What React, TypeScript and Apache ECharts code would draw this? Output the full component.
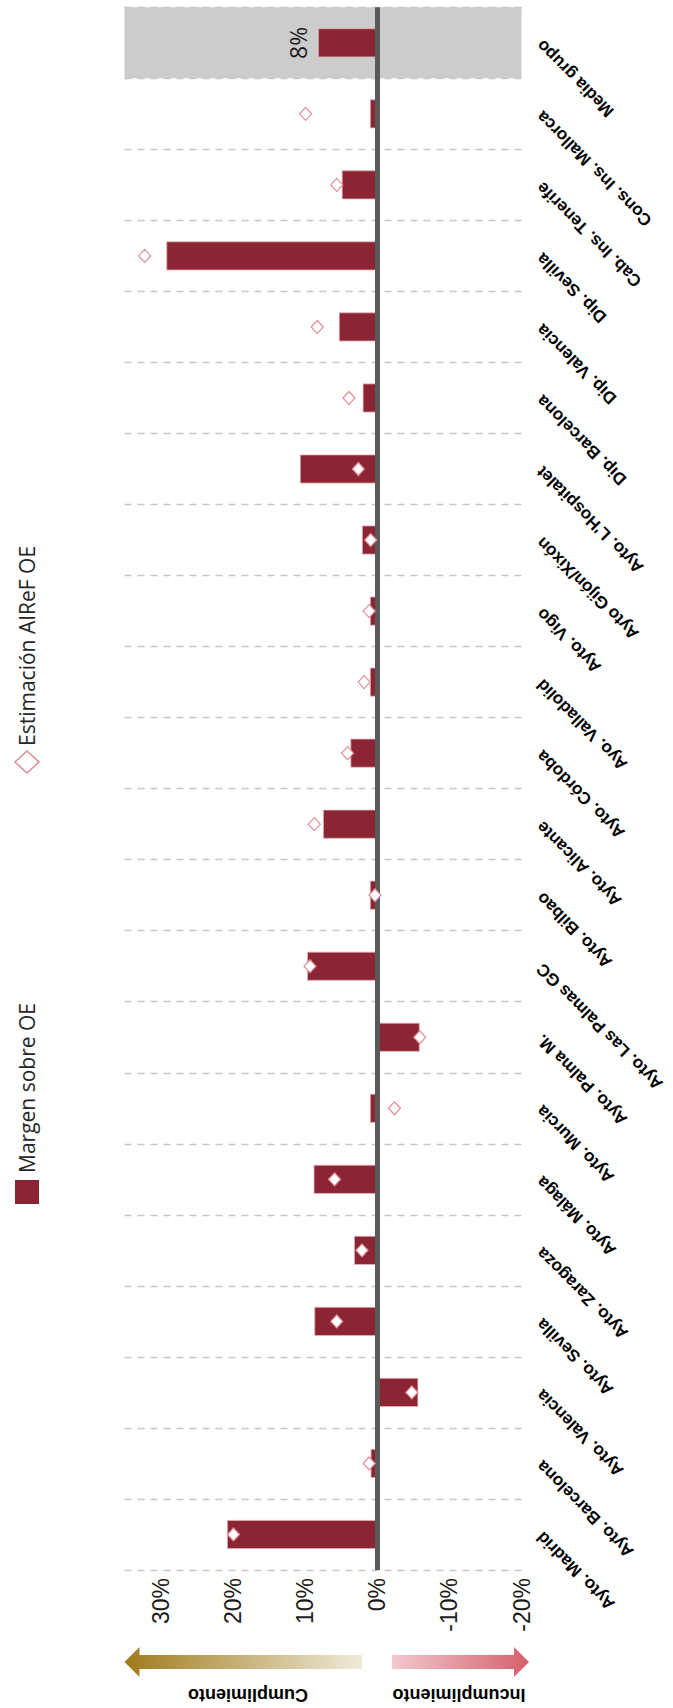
import React, { useEffect, useRef } from "react";
import * as echarts from "echarts";

const categories: string[] = [
  "Ayto. Madrid",
  "Ayto. Barcelona",
  "Ayto. Valencia",
  "Ayto. Sevilla",
  "Ayto. Zaragoza",
  "Ayto. Málaga",
  "Ayto. Murcia",
  "Ayto. Palma M.",
  "Ayto. Las Palmas GC",
  "Ayto. Bilbao",
  "Ayto. Alicante",
  "Ayto. Córdoba",
  "Ayo. Valladolid",
  "Ayto. Vigo",
  "Ayto Gijón/Xixón",
  "Ayto. L'Hospitalet",
  "Dip. Barcelona",
  "Dip. Valencia",
  "Dip. Sevilla",
  "Cab. Ins. Tenerife",
  "Cons. Ins. Mallorca",
  "Media grupo",
];

const margenSobreOE: number[] = [
  20.8, 0.9, -5.7, 8.7, 3.2, 8.8, 1.0, -5.9, 9.7, 1.0, 7.5, 3.7, 1.0, 1.0, 2.1,
  10.7, 2.0, 5.3, 29.2, 4.9, 1.0, 8.2,
];

const estimacionAIReF: (number | null)[] = [
  19.9, 1.1, -4.8, 5.6, 2.1, 5.9, -2.4, -5.9, 9.3, 0.3, 8.7, 4.1, 1.8, 1.1, 0.9,
  2.6, 3.9, 8.3, 32.2, 5.6, 9.9, null,
];

const highlightCategory = "Media grupo";

const valueTicks = { min: -20, max: 35, interval: 10 };

const legendNames = ["Margen sobre OE", "Estimación AIReF OE"];
const arrowNames = ["Cumplimiento", "Incumplimiento"];

const BAR = "#8B2533";
const DIAMOND = "#E28C97";

export default function App() {
  const ref = useRef<HTMLDivElement>(null);

  useEffect(() => {
    if (!ref.current) return;
    const chart = echarts.init(ref.current, null, { renderer: "svg" });

    const hlIndex = categories.indexOf(highlightCategory);

    const barData = margenSobreOE.map((v, i) =>
      i === hlIndex
        ? {
            value: v,
            label: {
              show: true,
              position: "left",
              rotate: 90,
              align: "center",
              verticalAlign: "bottom",
              distance: 8,
              fontSize: 23,
              fontFamily: "Open Sans",
              color: "#1a1a1a",
              formatter: (p: any) => Math.round(p.value) + "%",
            },
          }
        : v
    );

    const option: any = {
      animation: false,
      grid: { left: 124.5, right: 151.5, top: 7.3, bottom: 138, containLabel: false },
      xAxis: {
        type: "value",
        inverse: true,
        min: valueTicks.min,
        max: valueTicks.max,
        interval: valueTicks.interval,
        position: "bottom",
        axisLine: { show: false },
        axisTick: { show: false },
        splitLine: { show: false },
        axisLabel: {
          rotate: 90,
          margin: 8,
          fontSize: 23,
          fontFamily: "Liberation Sans, Arial",
          color: "#1a1a1a",
          formatter: (v: number) => (v > 30 ? "" : v + "%"),
        },
      },
      yAxis: {
        type: "category",
        data: categories,
        position: "right",
        axisLine: { show: false },
        axisTick: { show: false },
        splitLine: {
          show: true,
          lineStyle: { color: "#C6C6C6", width: 1.3, type: [7, 6] },
        },
        axisLabel: {
          interval: 0,
          rotate: 135,
          align: "right",
          verticalAlign: "middle",
          margin: 18,
          fontSize: 17,
          fontWeight: "bold",
          fontFamily: "Liberation Sans, Arial",
          color: "#000",
        },
      },
      series: [
        {
          type: "custom",
          z: -1,
          silent: true,
          data: [[hlIndex]],
          encode: { y: 0 },
          renderItem: (params: any, api: any) => {
            const cs = params.coordSys;
            const c = api.coord([0, api.value(0)]);
            const h = api.size([0, 1])[1];
            return {
              type: "rect",
              shape: { x: cs.x, y: c[1] - h / 2, width: cs.width, height: h },
              style: { fill: "#CCCCCC" },
            };
          },
        },
        {
          name: legendNames[0],
          type: "bar",
          data: barData,
          barWidth: 29,
          z: 2,
          itemStyle: { color: BAR, borderColor: "#E2B3B9", borderWidth: 0.8 },
          markLine: {
            silent: true,
            symbol: "none",
            label: { show: false },
            lineStyle: { color: "#595959", width: 5, type: "solid" },
            data: [{ xAxis: 0 }],
          },
        },
        {
          name: legendNames[1],
          type: "scatter",
          data: estimacionAIReF,
          symbol: "diamond",
          symbolSize: [12, 13],
          z: 5,
          itemStyle: { color: "#FFFFFF", borderColor: DIAMOND, borderWidth: 1.2, opacity: 1 },
        },
      ],
      graphic: [
        {
          type: "rect",
          shape: { x: 15, y: 1180, width: 24, height: 24 },
          style: { fill: BAR },
        },
        {
          type: "text",
          x: 27,
          y: 1173,
          rotation: Math.PI / 2,
          style: {
            text: legendNames[0],
            font: '21px "Open Sans"',
            fill: "#262626",
            align: "left",
            textAlign: "left",
            verticalAlign: "middle",
            textVerticalAlign: "middle",
          },
        },
        {
          type: "polygon",
          shape: { points: [[27, 751], [39, 762], [27, 773], [15, 762]] },
          style: { fill: "#FFFFFF", stroke: DIAMOND, lineWidth: 1.6 },
        },
        {
          type: "text",
          x: 27,
          y: 746,
          rotation: Math.PI / 2,
          style: {
            text: legendNames[1],
            font: '21px "Open Sans"',
            fill: "#262626",
            align: "left",
            textAlign: "left",
            verticalAlign: "middle",
            textVerticalAlign: "middle",
          },
        },
        {
          type: "polygon",
          shape: {
            points: [
              [124.5, 1662], [139.5, 1647], [139.5, 1655], [362, 1655],
              [362, 1669], [139.5, 1669], [139.5, 1677],
            ],
          },
          style: {
            fill: new echarts.graphic.LinearGradient(0, 0, 1, 0, [
              { offset: 0, color: "#A07B1C" },
              { offset: 1, color: "#EFEAD9" },
            ]),
          },
        },
        {
          type: "polygon",
          shape: {
            points: [
              [392, 1655], [514, 1655], [514, 1647], [529, 1662],
              [514, 1677], [514, 1669], [392, 1669],
            ],
          },
          style: {
            fill: new echarts.graphic.LinearGradient(0, 0, 1, 0, [
              { offset: 0, color: "#F2C8CD" },
              { offset: 1, color: "#D6606D" },
            ]),
          },
        },
        {
          type: "text",
          x: 248,
          y: 1695,
          rotation: Math.PI,
          style: {
            text: arrowNames[0],
            font: 'bold 18px "Liberation Sans", Arial',
            fill: "#000",
            align: "center",
            textAlign: "center",
            verticalAlign: "middle",
            textVerticalAlign: "middle",
          },
        },
        {
          type: "text",
          x: 459,
          y: 1695,
          rotation: Math.PI,
          style: {
            text: arrowNames[1],
            font: 'bold 18px "Liberation Sans", Arial',
            fill: "#000",
            align: "center",
            textAlign: "center",
            verticalAlign: "middle",
            textVerticalAlign: "middle",
          },
        },
      ],
    };

    chart.setOption(option);
    return () => chart.dispose();
  }, []);

  return (
    <div
      ref={ref}
      style={{ position: "absolute", left: 0, top: 0, width: 673, height: 1708 }}
    />
  );
}
